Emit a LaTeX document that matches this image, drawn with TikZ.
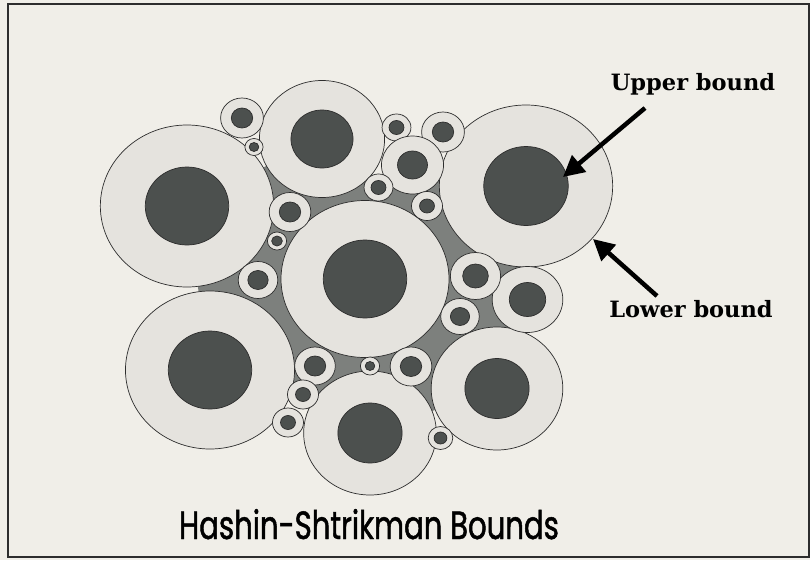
\documentclass[tikz,border=0pt]{standalone}
\usepackage{fontspec}
\usetikzlibrary{arrows.meta}
\newfontfamily\titlefont[FakeStretch=0.74, FakeBold=1.2]{Poppins}
\newfontfamily\boundfont{DejaVu Serif}
\definecolor{paper}{RGB}{240,238,232}
\definecolor{grainlight}{RGB}{229,227,222}
\definecolor{graincore}{RGB}{76,80,78}
\definecolor{matrixgray}{RGB}{125,128,125}
\definecolor{rimline}{RGB}{45,45,45}

\begin{document}
\begin{tikzpicture}[x=0.025cm, y=-0.025cm,
    shell/.style={fill=grainlight, draw=rimline, line width=0.5pt},
    core/.style={fill=graincore, draw=rimline, line width=0.5pt},
    boundlabel/.style={font={\boundfont\bfseries\fontsize{16pt}{18pt}\selectfont}, inner sep=0pt},
    boundarrow/.style={line width=3.2pt, -{Triangle[length=15pt,width=15pt]}}]
    \fill[paper] (0,0) rectangle (810,560);
    \useasboundingbox (0,0) rectangle (810,560);
    \draw[rimline, line width=1.5pt] (8,4) rectangle (809,557);
    % matrix between the grains
    \fill[matrixgray] (186,205) -- (322,139) -- (378,188) -- (412,165) -- (526,187)
        -- (527,299) -- (497,388) -- (370,433) -- (210,370) -- cycle;
    % coated grains: centre x / centre y / shell radius / core radius
    \foreach \cx/\cy/\R/\r in {187/206/81/39, 322/139/58.5/29, 365/279/78.5/39,
        526/186/81/39.5, 210/370/79/39, 497/388.5/61.5/30, 370/433/62/30,
        527.5/299.5/33/17, 242/118/20/10, 254/147/8.5/4.5, 290/212/19.5/10,
        277/241/9/5, 258/280/18.5/9.5, 396.5/127.5/13.5/7, 443/132/20/10,
        412.5/165/29/14, 427/206/14.5/7, 475.5/276/23.5/12, 460/316.5/18/9,
        411/366.5/19.5/10, 370/366/9/4.5, 315/366/19/10, 303/394.5/14.5/7,
        288/422.5/14.5/7, 440.5/438/11.5/6, 378.5/187.5/13.5/7}
    {
        \draw[shell] (\cx,\cy) ellipse [x radius=1.07*\R, y radius=\R];
        \draw[core] (\cx,\cy) ellipse [x radius=1.07*\r, y radius=\r];
    }
    % labels
    \node[boundlabel, anchor=base] (upper) at (693,90) {Upper bound};
    \node[boundlabel, anchor=base] (lower) at (691,317) {Lower bound};
    \coordinate (uppertail) at (645,108);
    \coordinate (uppertip) at (563,177);
    \coordinate (lowertail) at (657,296);
    \coordinate (lowertip) at (593,239);
    \draw[boundarrow] (uppertail) -- (uppertip);
    \draw[boundarrow] (lowertail) -- (lowertip);
    \node[font={\titlefont\fontsize{28pt}{30pt}\selectfont}, anchor=base] (title) at (369,539) {Hashin-Shtrikman Bounds};
\end{tikzpicture}
\end{document}
